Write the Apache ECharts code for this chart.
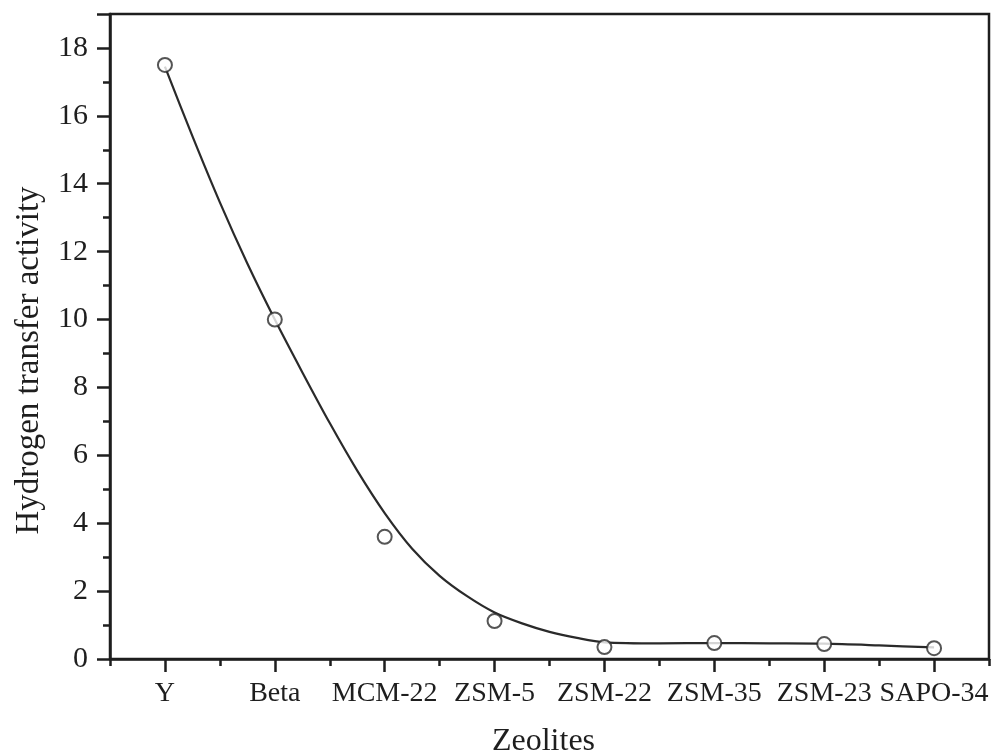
<!DOCTYPE html>
<html>
<head>
<meta charset="utf-8">
<script src="https://cdn.jsdelivr.net/npm/echarts@6/dist/echarts.min.js"></script>
<style>
  html, body { margin: 0; padding: 0; background: #fff; }
  #chart { width: 1004px; height: 753px; }
</style>
</head>
<body>
<div id="chart"></div>
<script>
// Data
const categories = ['Y', 'Beta', 'MCM-22', 'ZSM-5', 'ZSM-22', 'ZSM-35', 'ZSM-23', 'SAPO-34'];
const activity = [17.5, 10.0, 3.6, 1.12, 0.35, 0.47, 0.44, 0.32];
const fitX = [0, 0.25, 0.5, 0.75, 1, 1.25, 1.5, 1.75, 2, 2.25, 2.5, 2.75, 3, 3.25, 3.5, 3.75, 4, 4.5, 5, 5.5, 6, 6.5, 7];
const fitY = [17.45, 15.4, 13.45, 11.65, 10.0, 8.45, 6.95, 5.55, 4.3, 3.25, 2.45, 1.85, 1.37, 1.05, 0.8, 0.62, 0.49, 0.46, 0.47, 0.46, 0.45, 0.40, 0.34];
const yTicks = [0, 2, 4, 6, 8, 10, 12, 14, 16, 18];

const fitData = fitX.map((x, i) => [x, fitY[i]]);
const ink = '#1e1e1e';
const font = '"Liberation Serif", "Times New Roman", serif';

const chart = echarts.init(document.getElementById('chart'), null, { renderer: 'canvas' });
chart.setOption({
  backgroundColor: '#ffffff',
  animation: false,
  grid: {
    left: 110, right: 15, top: 14, bottom: 94,
    containLabel: false, outerBoundsMode: 'none',
    show: true, borderColor: ink, borderWidth: 2.5, backgroundColor: 'transparent'
  },
  xAxis: [
    {
      type: 'category', data: categories, position: 'bottom', boundaryGap: true,
      name: 'Zeolites', nameLocation: 'middle', nameGap: 67,
      nameTextStyle: { fontFamily: font, fontSize: 32, color: ink, padding: [0, 12, 0, 0] },
      axisLine: { onZero: false, lineStyle: { color: ink, width: 2.5 } },
      axisTick: { show: true, alignWithLabel: true, length: 13, lineStyle: { color: ink, width: 2.5 } },
      axisLabel: { interval: 0, margin: 21, fontFamily: font, fontSize: 28, color: ink, hideOverlap: false },
      splitLine: { show: false }
    },
    {
      type: 'category', data: categories, position: 'bottom', boundaryGap: true,
      axisLine: { show: false, onZero: false },
      axisTick: { show: true, alignWithLabel: false, length: 7, lineStyle: { color: ink, width: 2.5 } },
      axisLabel: { show: false },
      splitLine: { show: false }
    },
    {
      type: 'value', min: -0.5, max: 7.5, position: 'bottom', show: false,
      axisLine: { onZero: false }
    }
  ],
  yAxis: {
    type: 'value', min: 0, max: 19, interval: 2,
    name: 'Hydrogen transfer activity', nameLocation: 'middle', nameGap: 64,
    nameTextStyle: { fontFamily: font, fontSize: 33, color: ink, padding: [0, 48, 0, 0] },
    axisLine: { show: true, onZero: false, lineStyle: { color: ink, width: 2.5 } },
    axisTick: { show: true, length: 13, lineStyle: { color: ink, width: 2.5 } },
    minorTick: { show: true, splitNumber: 2, length: 7, lineStyle: { color: ink, width: 2.5 } },
    axisLabel: {
      margin: 22, fontFamily: font, fontSize: 30, color: ink, showMaxLabel: false,
      formatter: v => (yTicks.indexOf(v) >= 0 ? String(v) : '')
    },
    splitLine: { show: false }
  },
  series: [
    {
      type: 'line', xAxisIndex: 2, data: fitData, smooth: 0.3,
      showSymbol: false, symbol: 'none',
      lineStyle: { color: '#2a2a2a', width: 2.2 }, z: 2
    },
    {
      type: 'scatter', xAxisIndex: 0, data: activity,
      symbol: 'circle', symbolSize: 14,
      itemStyle: { color: '#ffffff', borderColor: '#2a2a2a', borderWidth: 2 }, z: 3
    }
  ]
});
</script>
</body>
</html>
